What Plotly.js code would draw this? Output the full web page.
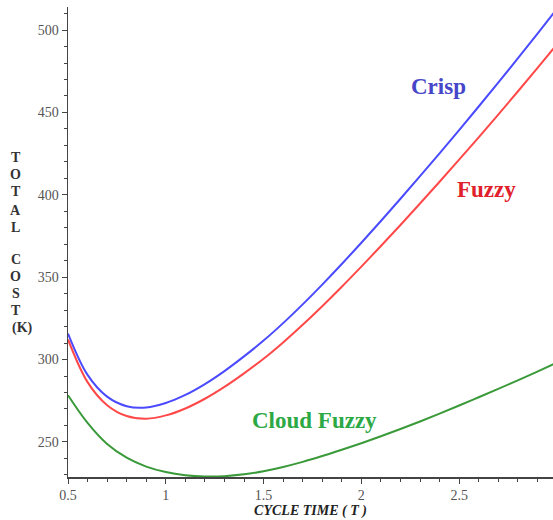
<!DOCTYPE html>
<html>
<head>
<meta charset="utf-8">
<script src="https://cdn.plot.ly/plotly-3.0.1.min.js"></script>
<style>html,body{margin:0;padding:0;background:#fff;}#chart{width:553px;height:520px;}</style>
</head>
<body>
<div id="chart"></div>
<script>
var cycleTime = [0.5,0.6,0.7,0.8,0.9,1.0,1.1,1.2,1.3,1.4,1.5,1.6,1.7,1.8,1.9,2.0,2.1,2.2,2.3,2.4,2.5,2.6,2.7,2.8,2.9,3.0];
var crispCost = [315.8,290.7,277.5,271.7,270.9,273.6,278.5,285.1,293.0,301.9,311.5,322.1,333.5,345.5,358.0,370.9,384.1,397.6,411.3,425.2,439.3,453.6,468.1,482.8,497.7,512.8];
var fuzzyCost = [312.2,286.3,272.3,265.7,264.1,266.1,270.3,276.2,283.4,291.6,300.5,310.4,321.1,332.4,344.2,356.4,368.9,381.7,394.7,407.9,421.3,434.9,448.7,462.7,476.9,491.3];
var cloudFuzzyCost = [278.3,261.5,248.7,240.4,235.0,231.7,229.8,229.0,229.2,230.3,232.2,234.8,237.9,241.4,245.2,249.2,253.4,257.8,262.4,267.2,272.1,277.1,282.2,287.4,292.7,298.1];
var seriesNames = ["Crisp","Fuzzy","Cloud Fuzzy"];
var xTickVals = [0.5,1,1.5,2,2.5,3];
var xTickText = ["0.5","1","1.5","2","2.5","3"];
var yTickVals = [250,300,350,400,450,500];
var yTitleLetters = ["T","O","T","A","L","C","O","S","T","(K)"];

var serif = "Liberation Serif";
var traces = [
  {x: cycleTime, y: crispCost, name: seriesNames[0], mode: "lines", line: {color: "#4a4aff", width: 2, shape: "spline", smoothing: 1}},
  {x: cycleTime, y: fuzzyCost, name: seriesNames[1], mode: "lines", line: {color: "#ff4848", width: 2, shape: "spline", smoothing: 1}},
  {x: cycleTime, y: cloudFuzzyCost, name: seriesNames[2], mode: "lines", line: {color: "#3a9a3a", width: 2, shape: "spline", smoothing: 1}}
];

// pixel layout helpers (plot area: left 68, width 485, top 7, height 470)
function paperX(px) { return (px - 68) / 485; }
function paperY(py) { return (477 - py) / 470; }
var letterCenters = [158, 175, 192, 210, 227, 259, 276, 293, 310, 328];

var annotations = yTitleLetters.map(function (ch, i) {
  return {xref: "paper", yref: "paper", x: paperX(ch.length > 1 ? 22 : 15.5), y: paperY(letterCenters[i]),
          xanchor: "center", yanchor: "middle", showarrow: false, text: "<b>" + ch + "</b>",
          font: {family: serif, size: 14, color: "#333"}};
});
annotations.push(
  {xref: "x", yref: "y", x: 2.392, y: 466, showarrow: false, text: "<b>" + seriesNames[0] + "</b>",
   font: {family: serif, size: 23, color: "#4646c8"}},
  {xref: "x", yref: "y", x: 2.638, y: 403, showarrow: false, text: "<b>" + seriesNames[1] + "</b>",
   font: {family: serif, size: 23, color: "#e0202a"}},
  {xref: "x", yref: "y", x: 1.758, y: 263, showarrow: false, text: "<b>" + seriesNames[2] + "</b>",
   font: {family: serif, size: 23, color: "#2ca845"}}
);

var layout = {
  width: 553, height: 520,
  margin: {l: 68, r: 0, t: 7, b: 43, pad: 0},
  paper_bgcolor: "#fff", plot_bgcolor: "#fff",
  showlegend: false,
  xaxis: {
    range: [0.5, 2.98], showgrid: false, zeroline: false,
    showline: true, linecolor: "#444", linewidth: 1.5,
    ticks: "outside", ticklen: 5, tickcolor: "#444", tickwidth: 1,
    tickvals: xTickVals, ticktext: xTickText,
    tickfont: {family: serif, size: 14, color: "#555"},
    minor: {dtick: 0.1, tick0: 0, ticks: "outside", ticklen: 3, tickcolor: "#444", showgrid: false},
    title: {text: "<b><i>CYCLE TIME ( T )</i></b>", font: {family: serif, size: 14, color: "#222"}, standoff: 2}
  },
  yaxis: {
    range: [228.7, 514], showgrid: false, zeroline: false,
    showline: true, linecolor: "#444", linewidth: 1.5,
    ticks: "outside", ticklen: 5, tickcolor: "#444", tickwidth: 1,
    tickvals: yTickVals,
    tickfont: {family: serif, size: 14, color: "#555"},
    minor: {dtick: 10, tick0: 0, ticks: "outside", ticklen: 3, tickcolor: "#444", showgrid: false}
  },
  annotations: annotations
};

Plotly.newPlot("chart", traces, layout, {staticPlot: true, displayModeBar: false});
</script>
</body>
</html>
